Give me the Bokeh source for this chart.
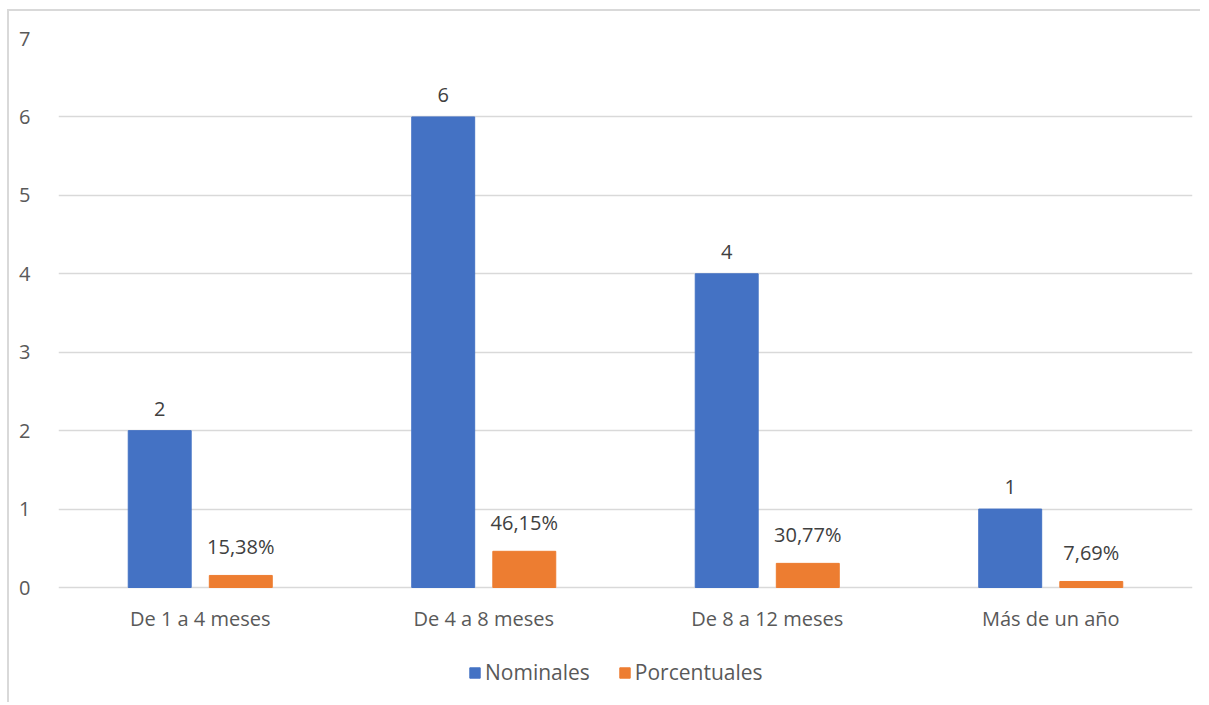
from bokeh.plotting import figure
from bokeh.models import (ColumnDataSource, Range1d, FixedTicker, Legend, LegendItem,
                          LabelSet)
from bokeh.core.properties import value
from bokeh.embed import file_html
from bokeh.resources import INLINE

categories = ["De 1 a 4 meses", "De 4 a 8 meses", "De 8 a 12 meses", "Más de un año"]
nominales = [2, 6, 4, 1]
porcentuales = [0.1538, 0.4615, 0.3077, 0.0769]
y_ticks = [0, 1, 2, 3, 4, 5, 6, 7]

FONT = "Open Sans"
FS = "20px"
BLUE = "#4472c4"
ORANGE = "#ed7d31"
TEXT = "#595959"
LABEL = "#404040"

centers = [i + 0.5 for i in range(len(categories))]
offset = 0.143
bar_w = 0.222

# the frame runs below zero so the category names and the legend live inside it
PX_PER_UNIT = 549 / 7
BELOW_ZERO_PX = 115
y_min = -BELOW_ZERO_PX / PX_PER_UNIT

src_nom = ColumnDataSource(dict(
    x=[c - offset for c in centers], top=nominales,
    label=[str(v) for v in nominales]))
src_pct = ColumnDataSource(dict(
    x=[c + offset for c in centers], top=porcentuales,
    label=[f"{v * 100:.2f}%".replace(".", ",") for v in porcentuales]))
src_cat = ColumnDataSource(dict(x=centers, y=[0] * len(centers), label=categories))

p = figure(frame_width=1134, frame_height=549 + BELOW_ZERO_PX, output_backend="svg",
           toolbar_location=None,
           x_range=Range1d(0, len(categories)), y_range=Range1d(y_min, 7),
           min_border_left=49, min_border_top=27, min_border_right=8,
           min_border_bottom=0)
p.margin = (9, 0, 0, 7)
p.styles = {"border-left": "2px solid #d9d9d9", "border-top": "2px solid #d9d9d9"}
p.outline_line_color = None
p.background_fill_color = "white"
p.border_fill_color = "white"

r_nom = p.vbar(x="x", top="top", width=bar_w, source=src_nom, color=BLUE)
r_pct = p.vbar(x="x", top="top", width=bar_w, source=src_pct, color=ORANGE)

for src in (src_nom, src_pct):
    p.add_layout(LabelSet(x="x", y="top", text="label", source=src,
                          text_align="center", text_baseline="bottom", y_offset=15,
                          text_font=value(FONT), text_font_size=FS,
                          text_color=LABEL))

# category names under the zero line
p.add_layout(LabelSet(x="x", y="y", text="label", source=src_cat,
                      text_align="center", text_baseline="middle", y_offset=-31,
                      text_font=value(FONT), text_font_size=FS, text_color=TEXT))

p.xgrid.grid_line_color = None
p.ygrid.grid_line_color = "#d9d9d9"
p.ygrid.grid_line_width = 1.3
p.ygrid.ticker = FixedTicker(ticks=y_ticks)

p.xaxis.visible = False
p.yaxis.ticker = FixedTicker(ticks=y_ticks)
p.yaxis.axis_line_color = None
p.yaxis.major_tick_line_color = None
p.yaxis.minor_tick_line_color = None
p.yaxis.major_label_text_font = FONT
p.yaxis.major_label_text_font_size = FS
p.yaxis.major_label_text_color = TEXT
p.yaxis.major_label_standoff = 22

legend = Legend(items=[LegendItem(label="Nominales", renderers=[r_nom]),
                       LegendItem(label="Porcentuales", renderers=[r_pct])],
                orientation="horizontal", location=(410, 16),
                glyph_width=13, glyph_height=13, spacing=28,
                label_text_font=FONT, label_text_font_size="21px",
                label_text_color=TEXT, label_standoff=4,
                border_line_color=None, background_fill_alpha=0,
                margin=0, padding=4)
p.add_layout(legend)

open("out.html", "w").write(file_html(p, INLINE))
